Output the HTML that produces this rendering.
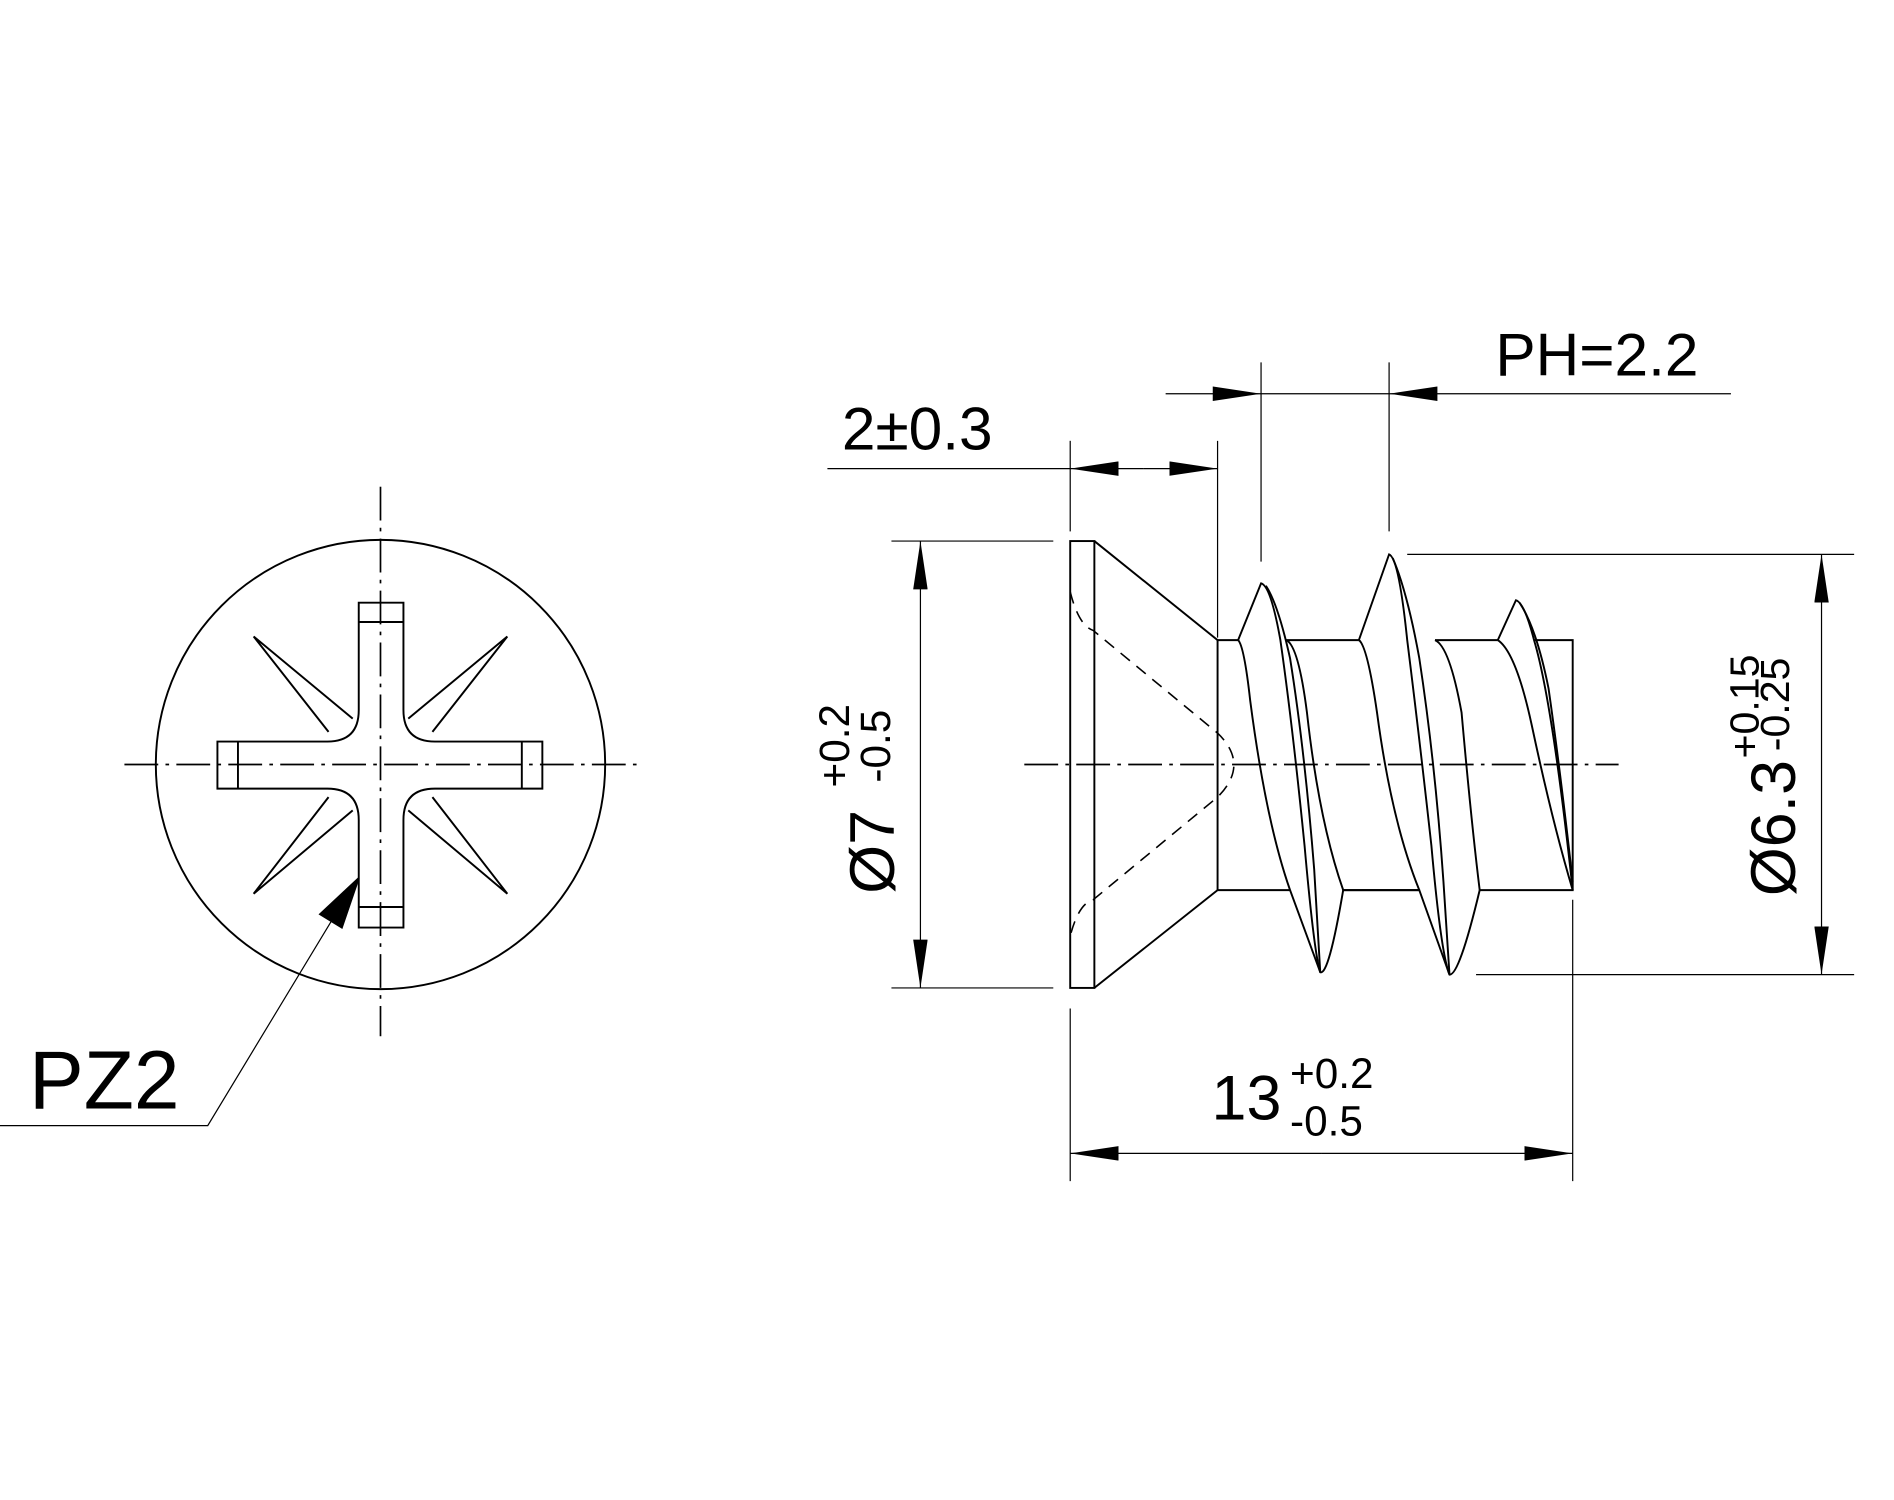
<!DOCTYPE html>
<html><head><meta charset="utf-8"><style>
html,body{margin:0;padding:0;background:#fff;}
svg{display:block;}
text{font-family:"Liberation Sans",Arial,sans-serif;fill:#000;}
</style></head><body>
<svg width="1894" height="1500" viewBox="0 0 1568 1242" preserveAspectRatio="none" xmlns="http://www.w3.org/2000/svg">
<defs>
<marker id="ar" viewBox="0 0 40 12" refX="40" refY="6" markerWidth="40" markerHeight="12" markerUnits="userSpaceOnUse" orient="auto"><path d="M0,0 L40,6 L0,12 Z" fill="#000"/></marker>
</defs>
<g fill="none" stroke="#000" stroke-width="1.6">
<circle cx="315" cy="633" r="186"/>
<line x1="315" y1="403" x2="315" y2="858" stroke-width="1.4" stroke-dasharray="28,6,3,6"/>
<line x1="103" y1="633" x2="527" y2="633" stroke-width="1.4" stroke-dasharray="28,6,3,6"/>
<path d="M297,499 H334 V588 Q334,614 360,614 H449 V653 H360 Q334,653 334,679 V768 H297 V679 Q297,653 271,653 H180 V614 H271 Q297,614 297,588 Z"/>
<line x1="297" y1="515" x2="334" y2="515"/>
<line x1="297" y1="751" x2="334" y2="751"/>
<line x1="197" y1="614" x2="197" y2="653"/>
<line x1="432" y1="614" x2="432" y2="653"/>
<path d="M272,606 L210,527 L292,595"/>
<path d="M358,606 L420,527 L338,595"/>
<path d="M272,660 L210,740 L292,671"/>
<path d="M358,660 L420,740 L338,671"/>
<polyline points="0,932 172,932 285,745" stroke-width="1"/>
<path d="M297,727 L283,768 L265,757 Z" fill="#000"/>

<line x1="848" y1="633" x2="1340" y2="633" stroke-width="1.4" stroke-dasharray="28,6,3,6"/>
<rect x="886" y="448" width="20" height="370"/>
<path d="M906,448 L1008,530 M906,818 L1008,737"/>
<line x1="1008" y1="530" x2="1008" y2="737"/>
<path d="M886,490 Q893,518 905,522 L1008,607 Q1035,633 1008,660 L905,745 Q893,748 886,775" stroke-dasharray="10,7" stroke-width="1.3"/>
<path d="M1008,530 H1025 M1065,530 H1125 M1188,530 H1240 M1270,530 H1302 V737 H1225 M1008,737 H1068 M1112,737 H1175"/>
<path d="M1025,530 L1044,483 Q1052,485 1060,530 Q1070,600 1080,700 Q1088,790 1093,805 Q1100,808 1112,737"/>
<path d="M1048,485 Q1058,500 1068,545 Q1080,620 1088,720 L1093,805"/>
<path d="M1025,530 Q1030,535 1035,580 Q1048,680 1068,737 L1093,805"/>
<path d="M1125,530 L1150,459 Q1158,462 1165,530 Q1175,610 1185,700 Q1193,790 1200,807 Q1208,808 1225,737"/>
<path d="M1153,462 Q1165,490 1175,545 Q1188,630 1195,730 L1200,807"/>
<path d="M1065,530 Q1075,535 1082,590 Q1092,680 1112,737 L1175,737 L1200,807"/>
<path d="M1125,530 Q1132,535 1140,590 Q1152,680 1175,737"/>
<path d="M1240,530 L1255,497 Q1262,499 1270,530 Q1285,580 1302,737"/>
<path d="M1258,499 Q1272,520 1282,570 Q1292,640 1302,730"/>
<path d="M1188,530 Q1200,535 1210,590 Q1218,680 1225,737"/>
<path d="M1240,530 Q1255,540 1268,600 Q1285,680 1302,737"/>

<g stroke-width="1">
<line x1="886" y1="365" x2="886" y2="440"/>
<line x1="1008" y1="365" x2="1008" y2="528"/>
<line x1="685" y1="388" x2="886" y2="388"/>
<line x1="947" y1="388" x2="886" y2="388" marker-end="url(#ar)"/>
<line x1="947" y1="388" x2="1008" y2="388" marker-end="url(#ar)"/>
<line x1="1044" y1="300" x2="1044" y2="465"/>
<line x1="1150" y1="300" x2="1150" y2="440"/>
<line x1="965" y1="326" x2="1044" y2="326" marker-end="url(#ar)"/>
<line x1="1433" y1="326" x2="1150" y2="326" marker-end="url(#ar)"/>
<line x1="1044" y1="326" x2="1150" y2="326"/>
<line x1="738" y1="448" x2="872" y2="448"/>
<line x1="738" y1="818" x2="872" y2="818"/>
<line x1="762" y1="633" x2="762" y2="448" marker-end="url(#ar)"/>
<line x1="762" y1="633" x2="762" y2="818" marker-end="url(#ar)"/>
<line x1="1165" y1="459" x2="1535" y2="459"/>
<line x1="1222" y1="807" x2="1535" y2="807"/>
<line x1="1508" y1="633" x2="1508" y2="459" marker-end="url(#ar)"/>
<line x1="1508" y1="633" x2="1508" y2="807" marker-end="url(#ar)"/>
<line x1="886" y1="835" x2="886" y2="978"/>
<line x1="1302" y1="745" x2="1302" y2="978"/>
<line x1="1094" y1="955" x2="886" y2="955" marker-end="url(#ar)"/>
<line x1="1094" y1="955" x2="1302" y2="955" marker-end="url(#ar)"/>
</g>
</g>

<text x="24" y="918" font-size="68">PZ2</text>
<text x="697" y="372" font-size="50">2±0.3</text>
<text x="1238" y="311" font-size="50">PH=2.2</text>
<text x="1003" y="927" font-size="52">13</text>
<text x="1068" y="901" font-size="35">+0.2</text>
<text x="1068" y="940" font-size="35">-0.5</text>
<g transform="translate(740,740) rotate(-90)">
<text x="0" y="0" font-size="52">Ø7</text>
<text x="88" y="-37" font-size="35">+0.2</text>
<text x="92" y="-3" font-size="35">-0.5</text>
</g>
<g transform="translate(1486,742) rotate(-90)">
<text x="0" y="0" font-size="52">Ø6.3</text>
<text x="114" y="-30" font-size="34">+0.15</text>
<text x="120" y="-5" font-size="34">-0.25</text>
</g>
</svg>
</body></html>
